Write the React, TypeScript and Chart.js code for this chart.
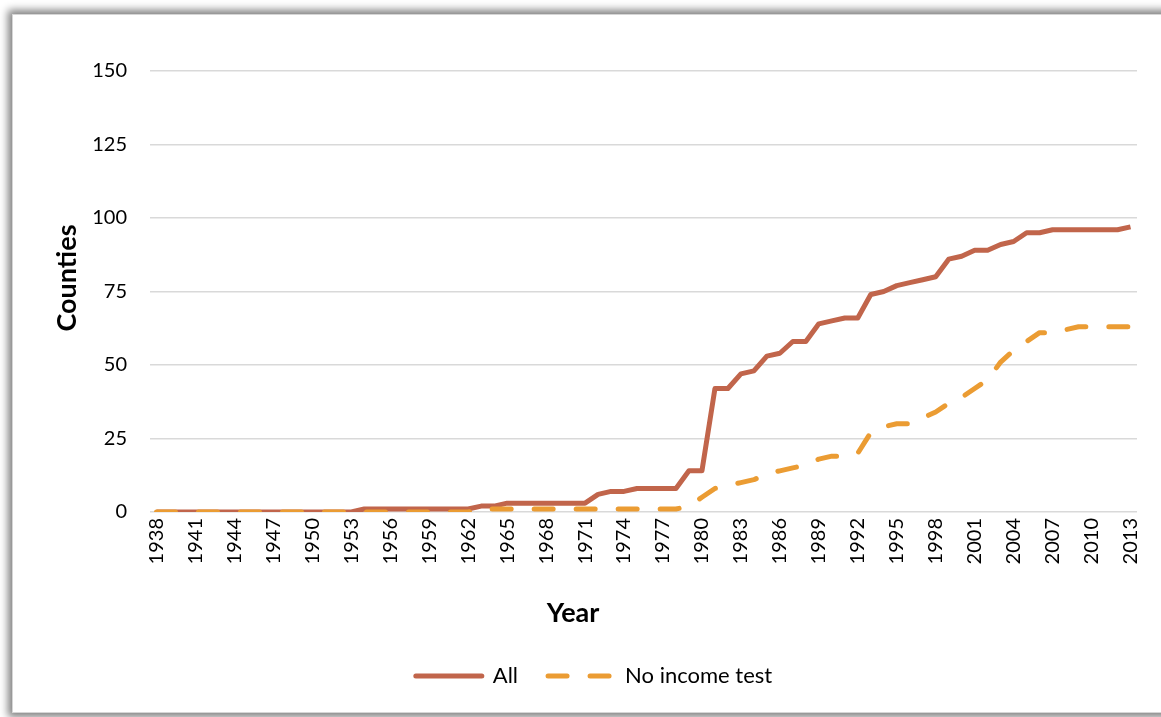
import React, { useEffect, useRef } from 'react';
import { Chart, registerables } from 'chart.js';

Chart.register(...registerables);
Chart.defaults.font.family = 'Lato';

const years = [
  '1938', '1939', '1940', '1941', '1942', '1943', '1944', '1945', '1946', '1947',
  '1948', '1949', '1950', '1951', '1952', '1953', '1954', '1955', '1956', '1957',
  '1958', '1959', '1960', '1961', '1962', '1963', '1964', '1965', '1966', '1967',
  '1968', '1969', '1970', '1971', '1972', '1973', '1974', '1975', '1976', '1977',
  '1978', '1979', '1980', '1981', '1982', '1983', '1984', '1985', '1986', '1987',
  '1988', '1989', '1990', '1991', '1992', '1993', '1994', '1995', '1996', '1997',
  '1998', '1999', '2000', '2001', '2002', '2003', '2004', '2005', '2006', '2007',
  '2008', '2009', '2010', '2011', '2012', '2013',
];

// "All" counties (solid line)
const allCounties = [
  0, 0, 0, 0, 0, 0, 0, 0, 0, 0,
  0, 0, 0, 0, 0, 0, 1, 1, 1, 1,
  1, 1, 1, 1, 1, 2, 2, 3, 3, 3,
  3, 3, 3, 3, 6, 7, 7, 8, 8, 8,
  8, 14, 14, 42, 42, 47, 48, 53, 54, 58,
  58, 64, 65, 66, 66, 74, 75, 77, 78, 79,
  80, 86, 87, 89, 89, 91, 92, 95, 95, 96,
  96, 96, 96, 96, 96, 97,
];

// "No income test" counties (dashed line)
const noIncomeTest = [
  0, 0, 0, 0, 0, 0, 0, 0, 0, 0,
  0, 0, 0, 0, 0, 0, 0, 0, 0, 0,
  0, 0, 0, 0, 0, 1, 1, 1, 1, 1,
  1, 1, 1, 1, 1, 1, 1, 1, 1, 1,
  1, 2, 5, 8, 9, 10, 11, 13, 14, 15,
  16, 18, 19, 19, 20, 27, 29, 30, 30, 32,
  34, 37, 39, 42, 45, 51, 55, 58, 61, 61,
  62, 63, 63, 63, 63, 63,
];

const seriesNames = ['All', 'No income test'];
const xTitle = 'Year';
const yTitle = 'Counties';
const yMin = 0;
const yMax = 150;
const yStep = 25;
const xLabelEvery = 3;

// Draws the axis titles where the reference places them (offset from the axis centre)
const axisTitlePlugin = {
  id: 'axisTitles',
  afterDraw(chart: any) {
    const { ctx, chartArea } = chart;
    ctx.save();
    ctx.fillStyle = '#000';
    ctx.font = 'bold 27px Lato';
    ctx.textAlign = 'center';
    ctx.textBaseline = 'middle';
    // x title
    ctx.fillText(xTitle, chartArea.left + 423, chartArea.bottom + 101);
    // y title
    ctx.translate(54, chartArea.top + 207);
    ctx.rotate(-Math.PI / 2);
    ctx.fillText(yTitle, 0, 0);
    ctx.restore();
  },
};

export default function App() {
  const ref = useRef<HTMLCanvasElement>(null);

  useEffect(() => {
    if (!ref.current) return;
    const chart = new Chart(ref.current, {
      type: 'line',
      data: {
        labels: years,
        datasets: [
          {
            label: seriesNames[0],
            data: allCounties,
            borderColor: '#C1654B',
            backgroundColor: '#C1654B',
            borderWidth: 5,
            pointRadius: 0,
            pointHoverRadius: 0,
            tension: 0,
            borderJoinStyle: 'round',
            order: 2,
          },
          {
            label: seriesNames[1],
            data: noIncomeTest,
            borderColor: '#EB9C33',
            backgroundColor: '#EB9C33',
            borderWidth: 5,
            borderDash: [19, 23],
            borderCapStyle: 'round',
            borderJoinStyle: 'round',
            pointRadius: 0,
            pointHoverRadius: 0,
            tension: 0,
            order: 1,
          },
        ],
      },
      options: {
        responsive: false,
        animation: false,
        events: [],
        layout: { padding: { left: 38, right: 38, top: 56, bottom: 15 } },
        plugins: {
          tooltip: { enabled: false },
          legend: {
            position: 'bottom',
            labels: {
              usePointStyle: true,
              pointStyle: 'line',
              pointStyleWidth: 66,
              padding: 30,
              color: '#000',
              font: { size: 22 },
              generateLabels: (c: any) =>
                c.data.datasets.map((ds: any, i: number) => ({
                  text: ds.label,
                  fillStyle: ds.borderColor,
                  strokeStyle: ds.borderColor,
                  lineWidth: 5,
                  lineDash: ds.borderDash || [],
                  lineCap: 'round',
                  lineJoin: 'round',
                  pointStyle: 'line',
                  fontColor: '#000',
                  hidden: false,
                  datasetIndex: i,
                })),
            },
          },
        },
        scales: {
          x: {
            offset: true,
            grid: { display: false, drawTicks: false },
            border: { display: false },
            ticks: {
              autoSkip: false,
              maxRotation: 90,
              minRotation: 90,
              padding: 6,
              color: '#000',
              font: { size: 20 },
              callback: function (this: any, value: any, index: number) {
                return index % xLabelEvery === 0 ? this.getLabelForValue(value) : '';
              },
            },
            title: { display: false },
            afterFit: (s: any) => {
              s.height = 123;
            },
          },
          y: {
            min: yMin,
            max: yMax,
            ticks: { stepSize: yStep, padding: 23, color: '#000', font: { size: 20 } },
            grid: { color: '#d9d9d9', lineWidth: 1.5, drawTicks: false },
            border: { display: false },
            title: { display: false },
            afterFit: (s: any) => {
              s.width = 99;
            },
          },
        },
      },
      plugins: [axisTitlePlugin],
    });
    return () => chart.destroy();
  }, []);

  return (
    <div
      style={{
        position: 'absolute',
        left: 0,
        top: 0,
        width: 1161,
        height: 717,
        overflow: 'hidden',
        background: '#fff',
      }}
    >
      <div
        style={{
          position: 'absolute',
          left: 12,
          top: 14,
          width: 1170,
          height: 699,
          boxSizing: 'border-box',
          border: '1px solid #d6d6d6',
          boxShadow: '0 0 8px 4px #808080',
          background: '#fff',
        }}
      />
      <canvas
        ref={ref}
        width={1162}
        height={697}
        style={{ position: 'absolute', left: 13, top: 15, width: 1162, height: 697 }}
      />
    </div>
  );
}
